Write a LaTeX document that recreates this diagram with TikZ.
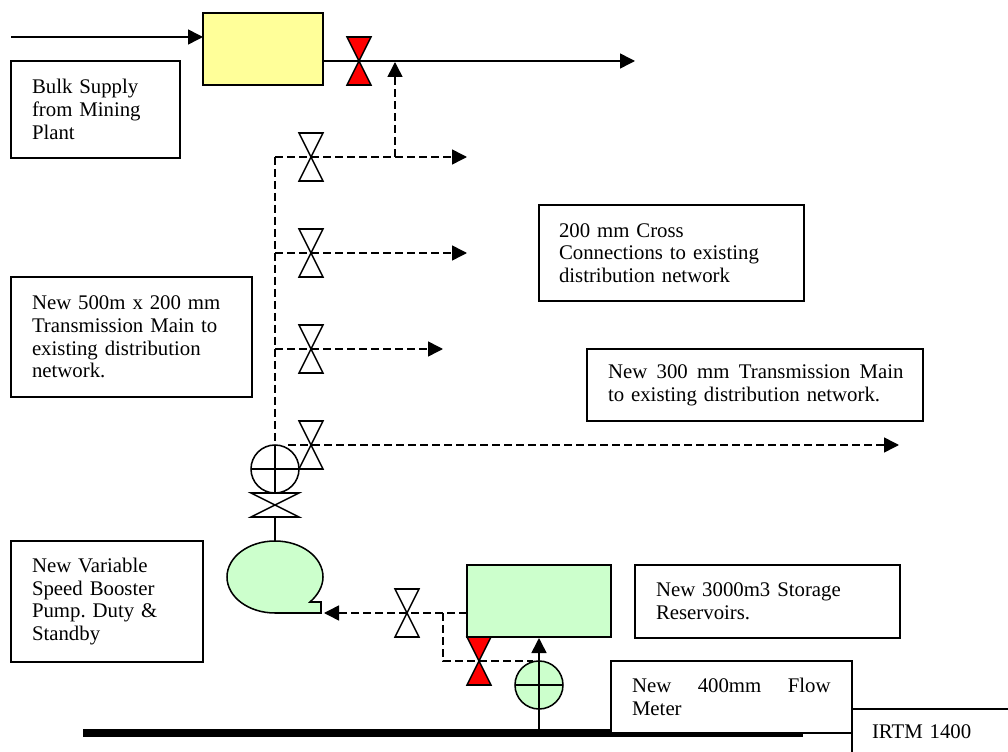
\documentclass[tikz,border=0pt]{standalone}
\usepackage{fontspec}
\setmainfont{Liberation Serif}
\usetikzlibrary{arrows.meta}
\tikzset{
  x=0.75pt,y=-0.75pt,
  pipe/.style={black,line width=1.15pt},
  dashpipe/.style={pipe,dash pattern=on 6pt off 3pt},
  arrowed/.style={-{Triangle[length=11.25pt,width=11.25pt]}},
  labelbox/.style args={#1/#2/#3}{draw=black,line width=1.15pt,fill=white,anchor=north west,
    minimum width=#1*0.75pt,minimum height=#2*0.75pt,inner xsep=#3*0.75pt,inner ysep=0pt,
    text width=(#1-2*#3)*0.75pt,align=left,outer sep=0pt,
    font=\fontsize{15.6pt}{17pt}\selectfont\frenchspacing},
  plainbox/.style args={#1/#2/#3}{draw=black,line width=1.15pt,fill=#3,anchor=north west,
    minimum width=#1*0.75pt,minimum height=#2*0.75pt,inner sep=0pt,outer sep=0pt},
  valvefill/.style={pipe,fill=#1,line join=miter},
  meter/.style={circle,draw=black,line width=1.15pt,minimum size=36pt,inner sep=0pt,outer sep=0pt},
}
\definecolor{ylw}{RGB}{255,255,153}
\definecolor{grn}{RGB}{204,255,204}
\newcommand{\VV}[3]{% vertical-axis valve: name, position, fill
  \coordinate (#1) at #2;
  \draw[valvefill=#3] (#1) -- ++(-12,-24) -- ++(24,0) -- cycle;
  \draw[valvefill=#3] (#1) -- ++(-12,24) -- ++(24,0) -- cycle;
}
\newcommand{\MeterCross}[1]{%
  \draw[pipe] (#1.north) -- (#1.south) (#1.west) -- (#1.east);
}
\begin{document}
\begin{tikzpicture}
\useasboundingbox (0,0) rectangle (1008,752);
% anchors
\coordinate (inflow) at (11,37);
\coordinate (mainend) at (635,61);
\coordinate (jA) at (395,157);
\coordinate (cA) at (275,157);
\coordinate (endA) at (467,157);
\coordinate (cB) at (275,253);
\coordinate (endB) at (467,253);
\coordinate (cC) at (275,349);
\coordinate (endC) at (443,349);
\coordinate (startD) at (288,445);
\coordinate (endD) at (899,445);
\coordinate (hitmain) at (395,62);
\coordinate (pumptip) at (324,613);
\coordinate (pumptop) at (275,541);
\coordinate (res1) at (467,613);
\coordinate (j1) at (443,613);
\coordinate (j2) at (443,661);
\coordinate (j3) at (533,661);
\coordinate (base) at (539,733);
\coordinate (restip) at (539,638);
\coordinate (hv) at (275,505);
% thick main
\coordinate (pipeL) at (83,733);
\coordinate (pipeR) at (803,733);
\draw[black,line width=6pt] (pipeL) -- (pipeR);
% equipment
\node[plainbox=120/72/ylw] (plant) at (203,13) {};
\node[plainbox=144/72/grn] (reservoir) at (467,565) {};
% connectors
\draw[pipe,arrowed] (inflow) -- (plant.west |- inflow);
\draw[pipe,arrowed] (plant.east |- mainend) -- (mainend);
\draw[dashpipe,arrowed] (jA) -- (hitmain);
\draw[dashpipe,arrowed] (cA) -- (endA);
\draw[dashpipe,arrowed] (cB) -- (endB);
\draw[dashpipe,arrowed] (cC) -- (endC);
\draw[dashpipe,arrowed] (startD) -- (endD);
% meters
\node[meter] (m1) at (275,469) {};
\MeterCross{m1}
\node[meter,fill=grn] (m2) at (539,685) {};
\MeterCross{m2}
\draw[dashpipe] (cA) -- (m1.north);
\draw[pipe] (hv) -- (m1.south);
\draw[pipe] (hv) -- (pumptop);
\draw[pipe,arrowed] (base) -- (restip);
\draw[dashpipe,arrowed] (res1) -- (pumptip);
\draw[dashpipe] (j1) -- (j2) -- (j3);
% pump
\draw[pipe,fill=grn] (321,613) -- (275,613)
  .. controls (248.5,613) and (227,596.9) .. (227,577)
  .. controls (227,557.1) and (248.5,541) .. (275,541)
  .. controls (301.5,541) and (323,557.1) .. (323,577)
  .. controls (323,586) and (318,595) .. (310,602)
  -- (321,602) -- cycle;
% valves
\VV{v1}{(359,61)}{red}
\VV{v2}{(311,157)}{white}
\VV{v3}{(311,253)}{white}
\VV{v4}{(311,349)}{white}
\VV{v5}{(311,445)}{white}
\VV{v6}{(407,613)}{white}
\VV{v7}{(479,661)}{red}
\draw[valvefill=white] (hv) -- ++(-24,-12) -- ++(48,0) -- cycle;
\draw[valvefill=white] (hv) -- ++(-24,12) -- ++(48,0) -- cycle;
% labels
\node[labelbox=169/97/21] (bulk) at (11,61) {Bulk Supply\\from Mining\\Plant};
\node[labelbox=241/120/21] (trans) at (11,277) {New 500m x 200 mm\\Transmission Main to\\existing distribution\\network.};
\node[labelbox=265/96/20] (cross) at (539,205) {200 mm Cross\\Connections to existing\\distribution network};
\node[labelbox=336/72/21] (main) at (587,349) {\hbox to 221.6pt{New\hfill 300\hfill mm\hfill Transmission\hfill Main}\\to existing distribution network.};
\node[labelbox=192/121/21] (pumpbox) at (11,541) {New Variable\\Speed Booster\\Pump. Duty \&\\Standby};
\node[labelbox=265/73/21] (store) at (635,565) {New 3000m3 Storage\\Reservoirs.};
\node[labelbox=241/72/21] (flow) at (611,661) {\hbox to 149pt{New\hfill 400mm\hfill Flow}\\Meter};
\node[labelbox=156/46/20,draw=none] (irtm) at (852,709) {IRTM 1400};
\draw[pipe] (irtm.south west) -- (irtm.north west) -- (irtm.north east);
\end{tikzpicture}
\end{document}
